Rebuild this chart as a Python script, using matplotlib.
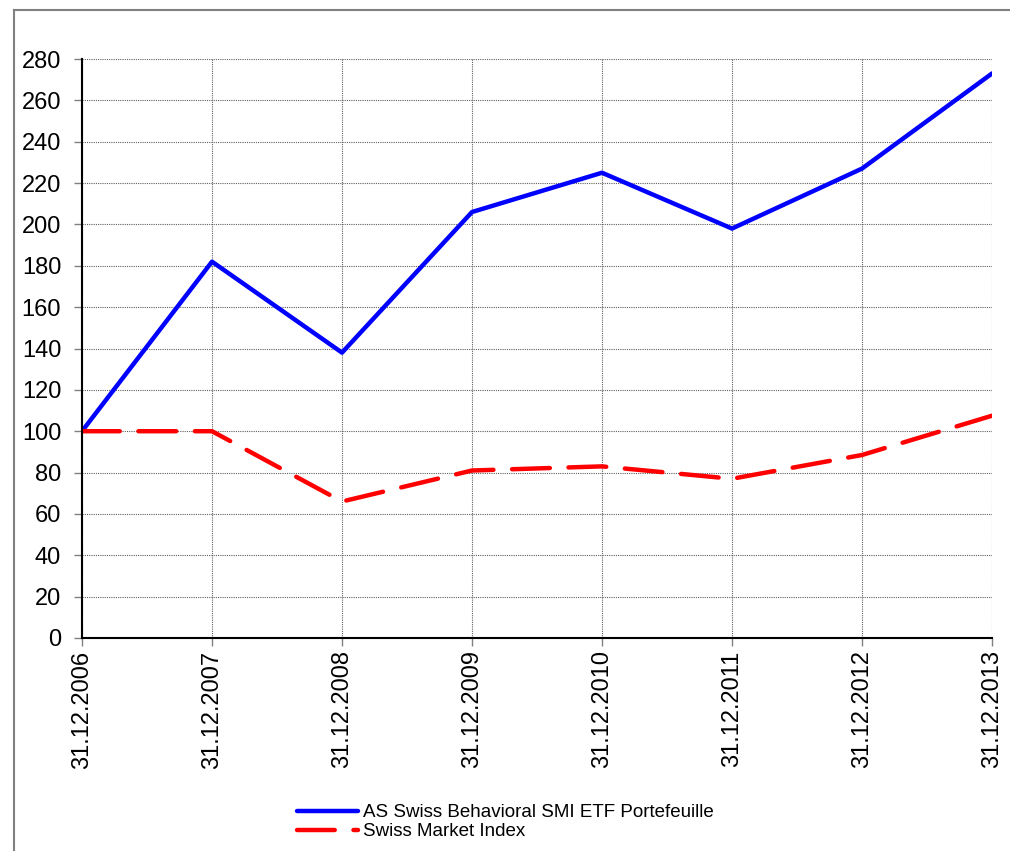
import matplotlib.pyplot as plt
from matplotlib.lines import Line2D

plt.rcParams['font.family'] = ['Liberation Sans', 'DejaVu Sans']

dates = ['31.12.2006', '31.12.2007', '31.12.2008', '31.12.2009',
         '31.12.2010', '31.12.2011', '31.12.2012', '31.12.2013']
portfolio = [100, 182, 138, 206, 225, 198, 227, 273]
smi = [100, 100, 66, 81, 83, 77, 88.5, 107.5]
yticks = list(range(0, 281, 20))

fig = plt.figure(figsize=(10.1, 8.51), dpi=100)
# outer chart frame (top and left edges only visible)
fx = 14 / 1010
fy = 1 - 10 / 851
fig.lines.append(Line2D([fx, 1.05], [fy, fy], transform=fig.transFigure,
                        color='#808080', linewidth=1.5))
fig.lines.append(Line2D([fx, fx], [-0.05, fy], transform=fig.transFigure,
                        color='#808080', linewidth=1.5))

ax = fig.add_axes([82 / 1010, 1 - 638 / 851, 910 / 1010, 579 / 851])
x = list(range(len(dates)))
ax.plot(x, portfolio, color='#0000ff', linewidth=3.2, solid_capstyle='round',
        label='AS Swiss Behavioral SMI ETF Portefeuille')
ax.plot(x, smi, color='#ff0000', linewidth=3.2, dashes=(8.5, 4.2),
        dash_capstyle='round', label='Swiss Market Index')

ax.set_xlim(0, len(dates) - 1)
ax.set_ylim(0, 280)
ax.set_xticks(x)
ax.set_xticklabels(dates, rotation=90)
ax.set_yticks(yticks)
ax.tick_params(labelsize=17, length=6, color='#808080', width=1)
ax.tick_params(axis='y', pad=9)
ax.tick_params(axis='x', pad=3)
ax.grid(True, color='#606060', linestyle=(0, (1, 1)), linewidth=0.8)
ax.set_axisbelow(True)
for s in ['top', 'right']:
    ax.spines[s].set_visible(False)
for s in ['left', 'bottom']:
    ax.spines[s].set_linewidth(1.5)
    ax.spines[s].set_color('black')

ax.legend(loc='upper left', bbox_to_anchor=(297 / 1010, 1 - 804 / 851),
          bbox_transform=fig.transFigure, frameon=False, fontsize=13.5,
          handlelength=3.25, handletextpad=0.27, labelspacing=0.1,
          borderpad=0, borderaxespad=0)

fig.savefig('out.png', dpi=100)
